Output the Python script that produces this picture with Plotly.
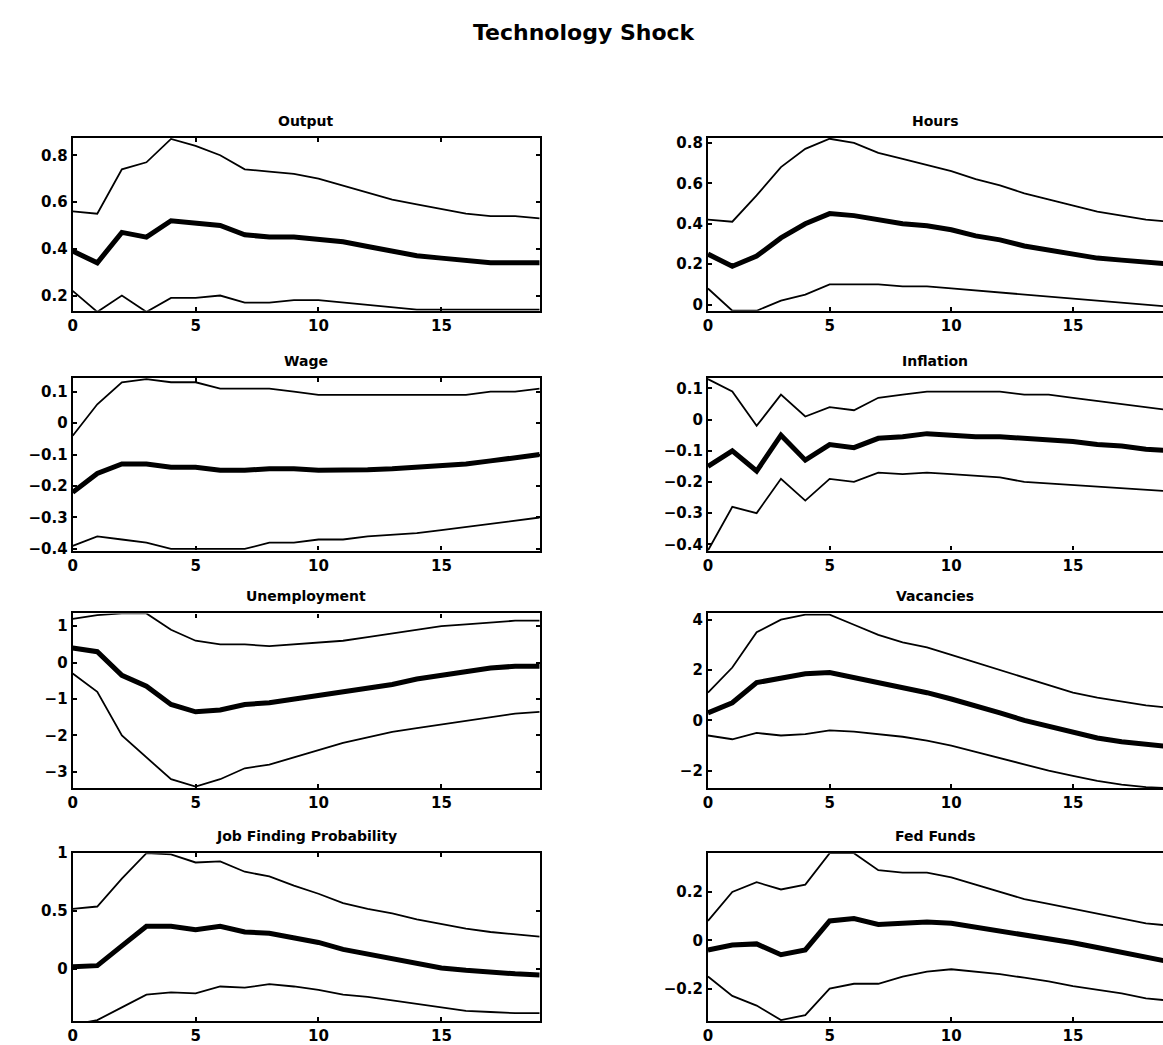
import plotly.graph_objects as go

steps = list(range(20))

titles = ["Output", "Hours", "Wage", "Inflation", "Unemployment", "Vacancies",
          "Job Finding Probability", "Fed Funds"]

output_med = [0.39, 0.34, 0.47, 0.45, 0.52, 0.51, 0.50, 0.46, 0.45, 0.45, 0.44, 0.43, 0.41, 0.39, 0.37, 0.36, 0.35, 0.34, 0.34, 0.34]
output_up = [0.56, 0.55, 0.74, 0.77, 0.87, 0.84, 0.80, 0.74, 0.73, 0.72, 0.70, 0.67, 0.64, 0.61, 0.59, 0.57, 0.55, 0.54, 0.54, 0.53]
output_lo = [0.22, 0.13, 0.20, 0.13, 0.19, 0.19, 0.20, 0.17, 0.17, 0.18, 0.18, 0.17, 0.16, 0.15, 0.14, 0.14, 0.14, 0.14, 0.14, 0.14]

hours_med = [0.25, 0.19, 0.24, 0.33, 0.40, 0.45, 0.44, 0.42, 0.40, 0.39, 0.37, 0.34, 0.32, 0.29, 0.27, 0.25, 0.23, 0.22, 0.21, 0.20]
hours_up = [0.42, 0.41, 0.54, 0.68, 0.77, 0.82, 0.80, 0.75, 0.72, 0.69, 0.66, 0.62, 0.59, 0.55, 0.52, 0.49, 0.46, 0.44, 0.42, 0.41]
hours_lo = [0.08, -0.03, -0.03, 0.02, 0.05, 0.10, 0.10, 0.10, 0.09, 0.09, 0.08, 0.07, 0.06, 0.05, 0.04, 0.03, 0.02, 0.01, 0.00, -0.01]

wage_med = [-0.22, -0.16, -0.13, -0.13, -0.14, -0.14, -0.15, -0.15, -0.145, -0.145, -0.15, -0.15, -0.148, -0.145, -0.14, -0.135, -0.13, -0.12, -0.11, -0.10]
wage_up = [-0.04, 0.06, 0.13, 0.14, 0.13, 0.13, 0.11, 0.11, 0.11, 0.10, 0.09, 0.09, 0.09, 0.09, 0.09, 0.09, 0.09, 0.10, 0.10, 0.11]
wage_lo = [-0.39, -0.36, -0.37, -0.38, -0.40, -0.40, -0.40, -0.40, -0.38, -0.38, -0.37, -0.37, -0.36, -0.355, -0.35, -0.34, -0.33, -0.32, -0.31, -0.30]

infl_med = [-0.15, -0.10, -0.165, -0.05, -0.13, -0.08, -0.09, -0.06, -0.055, -0.045, -0.05, -0.055, -0.055, -0.06, -0.065, -0.07, -0.08, -0.085, -0.095, -0.10]
infl_up = [0.13, 0.09, -0.02, 0.08, 0.01, 0.04, 0.03, 0.07, 0.08, 0.09, 0.09, 0.09, 0.09, 0.08, 0.08, 0.07, 0.06, 0.05, 0.04, 0.03]
infl_lo = [-0.42, -0.28, -0.30, -0.19, -0.26, -0.19, -0.20, -0.17, -0.175, -0.17, -0.175, -0.18, -0.185, -0.20, -0.205, -0.21, -0.215, -0.22, -0.225, -0.23]

unemp_med = [0.4, 0.3, -0.35, -0.65, -1.15, -1.35, -1.3, -1.15, -1.1, -1.0, -0.9, -0.8, -0.7, -0.6, -0.45, -0.35, -0.25, -0.15, -0.1, -0.1]
unemp_up = [1.2, 1.3, 1.35, 1.35, 0.9, 0.6, 0.5, 0.5, 0.45, 0.5, 0.55, 0.6, 0.7, 0.8, 0.9, 1.0, 1.05, 1.1, 1.15, 1.15]
unemp_lo = [-0.3, -0.8, -2.0, -2.6, -3.2, -3.4, -3.2, -2.9, -2.8, -2.6, -2.4, -2.2, -2.05, -1.9, -1.8, -1.7, -1.6, -1.5, -1.4, -1.35]

vac_med = [0.3, 0.7, 1.5, 1.7, 1.85, 1.9, 1.7, 1.5, 1.3, 1.1, 0.85, 0.6, 0.3, 0.0, -0.25, -0.5, -0.7, -0.85, -0.95, -1.05]
vac_up = [1.1, 2.1, 3.5, 4.0, 4.2, 4.2, 3.8, 3.4, 3.1, 2.9, 2.6, 2.3, 2.0, 1.7, 1.4, 1.1, 0.9, 0.75, 0.6, 0.5]
vac_lo = [-0.6, -0.75, -0.5, -0.6, -0.55, -0.4, -0.45, -0.55, -0.65, -0.8, -1.0, -1.25, -1.5, -1.75, -2.0, -2.2, -2.4, -2.55, -2.65, -2.7]

jfp_med = [0.02, 0.03, 0.2, 0.37, 0.37, 0.34, 0.37, 0.32, 0.31, 0.27, 0.23, 0.17, 0.13, 0.09, 0.05, 0.01, -0.01, -0.03, -0.04, -0.05]
jfp_up = [0.52, 0.54, 0.78, 1.0, 0.99, 0.92, 0.93, 0.84, 0.80, 0.72, 0.65, 0.57, 0.52, 0.48, 0.43, 0.39, 0.35, 0.32, 0.30, 0.28]
jfp_lo = [-0.48, -0.44, -0.33, -0.22, -0.20, -0.21, -0.15, -0.16, -0.13, -0.15, -0.18, -0.22, -0.24, -0.27, -0.30, -0.33, -0.36, -0.37, -0.38, -0.38]

ff_med = [-0.04, -0.02, -0.015, -0.06, -0.04, 0.08, 0.09, 0.065, 0.07, 0.075, 0.07, 0.055, 0.04, 0.02, 0.005, -0.01, -0.03, -0.05, -0.07, -0.09]
ff_up = [0.08, 0.2, 0.24, 0.21, 0.23, 0.36, 0.36, 0.29, 0.28, 0.28, 0.26, 0.23, 0.20, 0.17, 0.15, 0.13, 0.11, 0.09, 0.07, 0.06]
ff_lo = [-0.15, -0.23, -0.27, -0.33, -0.31, -0.20, -0.18, -0.18, -0.15, -0.13, -0.12, -0.13, -0.14, -0.155, -0.17, -0.19, -0.205, -0.22, -0.24, -0.25]

x_ticks = [0, 5, 10, 15]
x_tick_labels = ["0", "5", "10", "15"]

y_ranges = [[0.135, 0.875], [-0.03, 0.825], [-0.405, 0.145], [-0.42, 0.135],
            [-3.45, 1.35], [-2.7, 4.25], [-0.45, 1.0], [-0.335, 0.36]]
y_ticks = [[0.2, 0.4, 0.6, 0.8], [0, 0.2, 0.4, 0.6, 0.8],
           [-0.4, -0.3, -0.2, -0.1, 0, 0.1], [-0.4, -0.3, -0.2, -0.1, 0, 0.1],
           [-3, -2, -1, 0, 1], [-2, 0, 2, 4], [0, 0.5, 1], [-0.2, 0, 0.2]]
y_tick_labels = [["0.2", "0.4", "0.6", "0.8"], ["0", "0.2", "0.4", "0.6", "0.8"],
                 ["−0.4", "−0.3", "−0.2", "−0.1", "0", "0.1"], ["−0.4", "−0.3", "−0.2", "−0.1", "0", "0.1"],
                 ["−3", "−2", "−1", "0", "1"], ["−2", "0", "2", "4"], ["0", "0.5", "1"], ["−0.2", "0", "0.2"]]

series = [(output_med, output_up, output_lo), (hours_med, hours_up, hours_lo),
          (wage_med, wage_up, wage_lo), (infl_med, infl_up, infl_lo),
          (unemp_med, unemp_up, unemp_lo), (vac_med, vac_up, vac_lo),
          (jfp_med, jfp_up, jfp_lo), (ff_med, ff_up, ff_lo)]

W, H = 1163, 1045
col_px = [(68, 537), (706, 1163)]
row_px = [(131, 307), (375, 551), (615, 793), (859, 1030)]
x_ranges = [[0, 19], [0, 18.7]]

fig = go.Figure()
layout = dict(width=W, height=H, margin=dict(l=0, r=0, t=0, b=0),
              paper_bgcolor="white", plot_bgcolor="white", showlegend=False)
annotations = []
FONT = "DejaVu Sans"
for i, (med, up, lo) in enumerate(series):
    r, c = divmod(i, 2)
    n = i + 1
    xa = "x" if n == 1 else f"x{n}"
    ya = "y" if n == 1 else f"y{n}"
    for vals, w in ((up, 1.8), (lo, 1.8), (med, 5)):
        fig.add_trace(go.Scatter(x=steps, y=vals, mode="lines", xaxis=xa, yaxis=ya,
                                 line=dict(color="black", width=w), hoverinfo="skip"))
    x0, x1 = col_px[c]
    t, b = row_px[r]
    dom_x = [x0 / W, x1 / W]
    dom_y = [1 - b / H, 1 - t / H]
    layout["xaxis" if n == 1 else f"xaxis{n}"] = dict(
        domain=dom_x, range=x_ranges[c], anchor=ya, tickvals=x_ticks, ticktext=x_tick_labels,
        showline=True, linecolor="black", linewidth=2.2, mirror="ticks" if c == 0 else True,
        ticks="inside", ticklen=4, tickwidth=1.5, tickcolor="black", showgrid=False, zeroline=False,
        tickfont=dict(family=FONT, size=15, color="black", weight="bold"), fixedrange=True)
    layout["yaxis" if n == 1 else f"yaxis{n}"] = dict(
        domain=dom_y, range=y_ranges[i], anchor=xa, tickvals=y_ticks[i], ticktext=y_tick_labels[i],
        showline=True, linecolor="black", linewidth=2.2, mirror="ticks" if c == 0 else False,
        ticks="inside", ticklen=4, tickwidth=1.5, tickcolor="black", showgrid=False, zeroline=False,
        tickfont=dict(family=FONT, size=15, color="black", weight="bold"), fixedrange=True)
    annotations.append(dict(text=titles[i], x=(dom_x[0] + dom_x[1]) / 2, y=dom_y[1],
                            xref="paper", yref="paper", xanchor="center", yanchor="bottom",
                            yshift=7, showarrow=False,
                            font=dict(family=FONT, size=14, color="black", weight="bold")))

annotations.append(dict(text="Technology Shock", x=0.5, y=1 - 24 / H, xref="paper", yref="paper",
                        xanchor="center", yanchor="middle", showarrow=False,
                        font=dict(family=FONT, size=22, color="black", weight="bold")))
layout["annotations"] = annotations
fig.update_layout(**layout)
fig.write_html("out.html")
